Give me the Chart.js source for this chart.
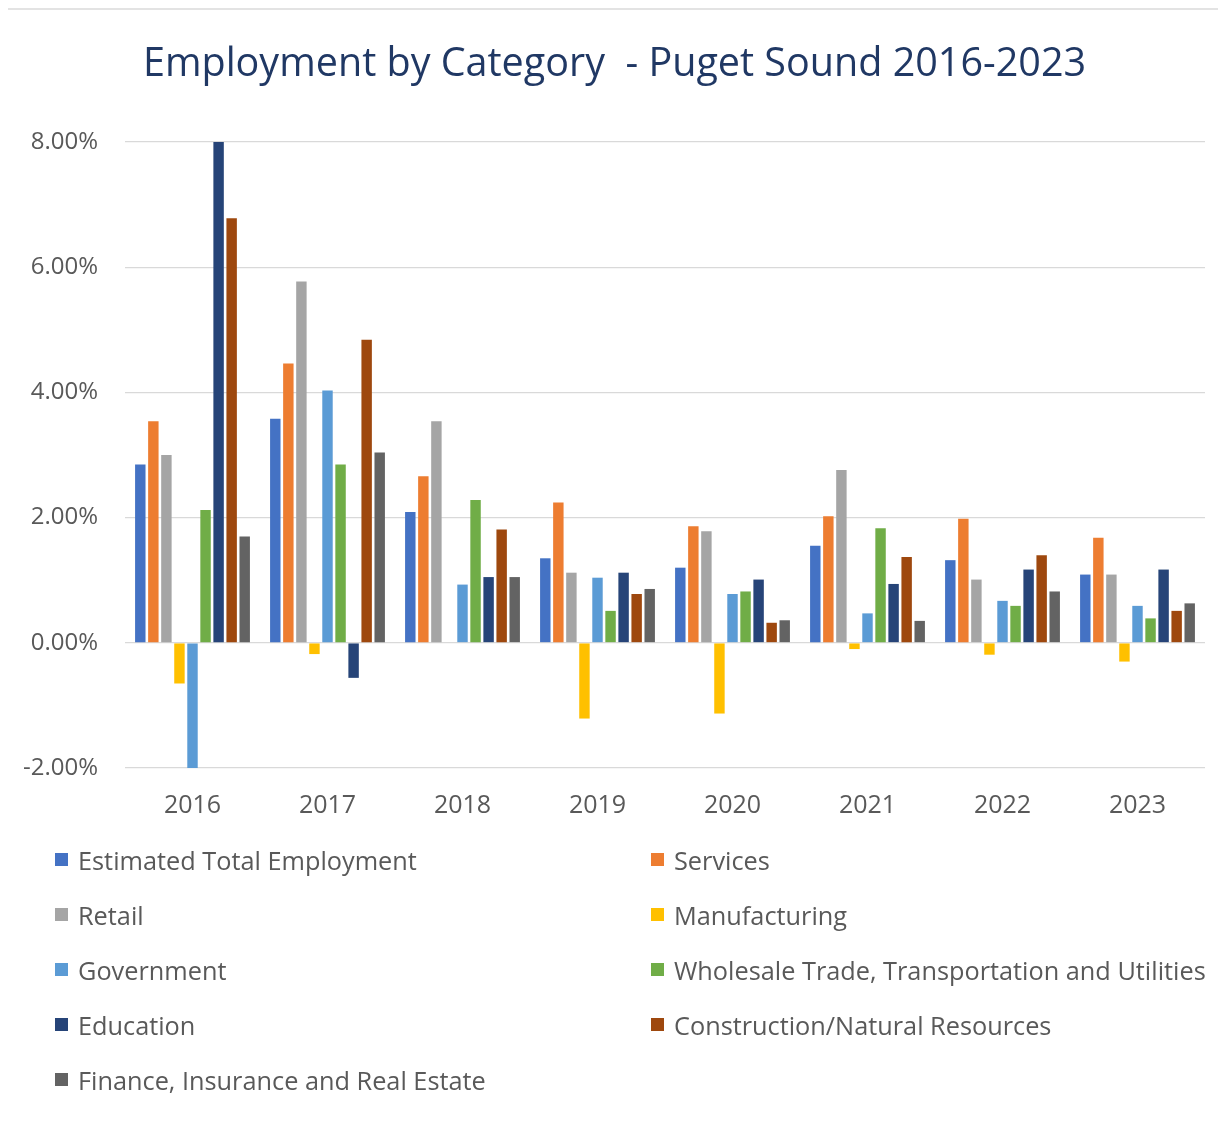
<!DOCTYPE html>
<html>
<head>
<meta charset="utf-8">
<script src="https://cdn.jsdelivr.net/npm/chart.js@4.4.1/dist/chart.umd.min.js"></script>
<style>
  html, body { margin: 0; padding: 0; background: #ffffff; }
  #wrap { position: relative; width: 1226px; height: 1122px; background: #fff; overflow: hidden; }
  #frame { position: absolute; left: 8px; top: 8px; width: 1210px; height: 1120px; border-top: 2px solid #e3e3e3; }
  #chartBox { position: absolute; left: 0; top: 0; width: 1226px; height: 845px; }
  #legend { position: absolute; left: 55px; top: 832px; display: grid; grid-template-columns: 596px 570px; grid-auto-rows: 55px;
            font-family: "Open Sans", sans-serif; font-size: 25.3px; color: #595959; }
  .item { display: flex; align-items: center; white-space: nowrap; }
  .sw { width: 13px; height: 13px; margin-right: 10px; flex: none; }
</style>
</head>
<body>
<div id="wrap">
  <div id="frame"></div>
  <div id="chartBox"><canvas id="c"></canvas></div>
  <div id="legend"></div>
</div>
<script>
const years = ["2016", "2017", "2018", "2019", "2020", "2021", "2022", "2023"];
const seriesNames = [
  "Estimated Total Employment", "Services", "Retail", "Manufacturing", "Government",
  "Wholesale Trade, Transportation and Utilities", "Education", "Construction/Natural Resources",
  "Finance, Insurance and Real Estate"
];
const estimatedTotal = [2.85, 3.58, 2.09, 1.35, 1.20, 1.55, 1.32, 1.09];
const services       = [3.54, 4.46, 2.66, 2.24, 1.86, 2.02, 1.98, 1.68];
const retail         = [3.00, 5.77, 3.54, 1.12, 1.78, 2.76, 1.01, 1.09];
const manufacturing  = [-0.65, -0.18, 0.00, -1.21, -1.13, -0.10, -0.19, -0.30];
const government     = [-2.10, 4.03, 0.93, 1.04, 0.78, 0.47, 0.67, 0.59];
const wholesale      = [2.12, 2.85, 2.28, 0.51, 0.82, 1.83, 0.59, 0.39];
const education      = [8.00, -0.56, 1.05, 1.12, 1.01, 0.94, 1.17, 1.17];
const construction   = [6.78, 4.84, 1.81, 0.78, 0.32, 1.37, 1.40, 0.51];
const finance        = [1.70, 3.04, 1.05, 0.86, 0.36, 0.35, 0.82, 0.63];
const yTicks = [-2, 0, 2, 4, 6, 8];

const seriesValues = [estimatedTotal, services, retail, manufacturing, government, wholesale, education, construction, finance];
const colors = ["#4472C4", "#ED7D31", "#A5A5A5", "#FFC000", "#5B9BD5", "#70AD47", "#264478", "#9E480E", "#636363"];

const datasets = seriesNames.map((name, i) => ({
  label: name,
  data: seriesValues[i],
  backgroundColor: colors[i],
  borderWidth: 0,
  categoryPercentage: 0.87,
  barPercentage: 0.8
}));

const chart = new Chart(document.getElementById('c'), {
  type: 'bar',
  data: { labels: years, datasets: datasets },
  options: {
    responsive: true,
    maintainAspectRatio: false,
    animation: false,
    layout: { padding: { left: 24, right: 21, top: 0, bottom: 0 } },
    plugins: {
      legend: { display: false },
      tooltip: { enabled: false },
      title: {
        display: true,
        text: "Employment by Category  - Puget Sound 2016-2023",
        color: "#203864",
        font: { family: "Open Sans", size: 39.5, weight: 'normal' },
        padding: { top: 41, bottom: 53.6 }
      }
    },
    scales: {
      x: {
        grid: { display: false, drawTicks: false },
        border: { display: false },
        ticks: { color: "#595959", font: { family: "Open Sans", size: 25 }, padding: 23 },
        afterFit: (s) => { s.height = 77; }
      },
      y: {
        min: -2, max: 8,
        afterBuildTicks: (s) => { s.ticks = yTicks.map(v => ({ value: v })); },
        grid: { color: "#D9D9D9", lineWidth: 1.3, drawTicks: false },
        border: { display: false },
        ticks: {
          color: "#595959",
          font: { family: "Open Sans", size: 24 },
          padding: 27,
          callback: (v) => Number(v).toFixed(2) + "%"
        },
        afterFit: (s) => { s.width = 101; }
      }
    }
  }
});

const legendEl = document.getElementById('legend');
chart.data.datasets.forEach((ds) => {
  const item = document.createElement('div');
  item.className = 'item';
  const sw = document.createElement('span');
  sw.className = 'sw';
  sw.style.background = ds.backgroundColor;
  const tx = document.createElement('span');
  tx.textContent = ds.label;
  item.appendChild(sw);
  item.appendChild(tx);
  legendEl.appendChild(item);
});
</script>
</body>
</html>
